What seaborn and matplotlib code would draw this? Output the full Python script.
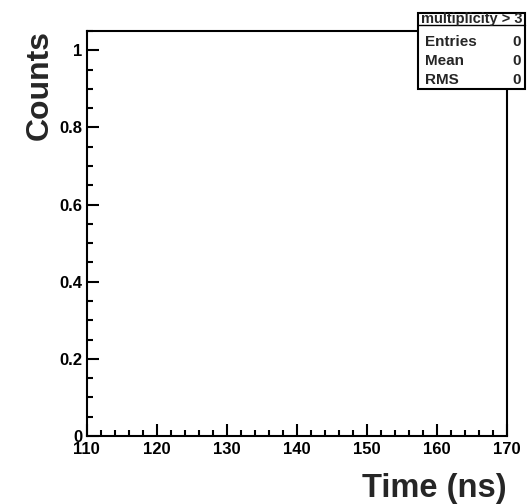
import numpy as np
import matplotlib
matplotlib.use("Agg")
import matplotlib.pyplot as plt
from matplotlib.patches import Rectangle
from matplotlib.ticker import MultipleLocator
import seaborn as sns

# Hit times (ns) passing the multiplicity > 3 selection: none recorded
hit_times = np.array([], dtype=float)
x_range = (110, 170)
n_bins = 60
y_range = (0, 1.05)
hist_title = "multiplicity > 3"
stat_names = ["Entries", "Mean", "RMS"]
stat_values = ["0", "0", "0"]

sns.set_style("ticks")
plt.rcParams["font.family"] = ["Liberation Sans", "DejaVu Sans"]
plt.rcParams["font.weight"] = "bold"

W, H = 531, 504
fig = plt.figure(figsize=(W / 100, H / 100), dpi=100)
fig.patch.set_facecolor("white")

# frame in pixel coordinates
L, R, T, B = 86.5, 507.0, 31.0, 436.0
ax = fig.add_axes([L / W, (H - B) / H, (R - L) / W, (B - T) / H])
ax.set_facecolor("white")

sns.histplot(x=hit_times, bins=n_bins, binrange=x_range, ax=ax,
             color="black", element="step", fill=False)

ax.set_xlim(*x_range)
ax.set_ylim(*y_range)
ax.set_xlabel("")
ax.set_ylabel("")

ax.xaxis.set_major_locator(MultipleLocator(10))
ax.xaxis.set_minor_locator(MultipleLocator(2))
ax.yaxis.set_major_locator(MultipleLocator(0.2))
ax.yaxis.set_minor_locator(MultipleLocator(0.05))
ax.yaxis.set_major_formatter(matplotlib.ticker.FuncFormatter(
    lambda v, p: "0" if abs(v) < 1e-9 else ("1" if abs(v - 1) < 1e-9 else f"{v:.1f}")))

for s in ax.spines.values():
    s.set_linewidth(1.5)
    s.set_color("black")
    s.set_visible(True)

ax.tick_params(axis="both", which="both", direction="in", width=1.5,
               colors="black", top=False, right=False)
ax.tick_params(axis="both", which="major", length=8.6, labelsize=12)
ax.tick_params(axis="both", which="minor", length=4.3)
ax.tick_params(axis="y", which="major", pad=3)
ax.tick_params(axis="x", which="major", pad=4)
for lab in ax.get_xticklabels() + ax.get_yticklabels():
    lab.set_fontweight("bold")

# axis titles
fig.text(R / W, (H - 497) / H, "Time (ns)", ha="right", va="baseline",
         fontsize=23.5, fontweight="bold")
fig.text(25 / W, (H - 30) / H, "Counts", ha="left", va="top", rotation=90,
         fontsize=23, fontweight="bold")

# statistics box
bx0, bx1, by0, by1, sep = 418, 525, 13, 89, 25
fig.patches.append(Rectangle((bx0 / W, (H - by1) / H), (bx1 - bx0) / W,
                             (by1 - by0) / H, transform=fig.transFigure,
                             facecolor="white", edgecolor="black",
                             linewidth=1.5, zorder=5))
fig.lines.append(plt.Line2D([bx0 / W, bx1 / W], [(H - sep) / H] * 2,
                            transform=fig.transFigure, color="black",
                            linewidth=1.0, zorder=6))
fig.text((bx0 + bx1) / 2 / W, (H - (by0 + sep) / 2) / H, hist_title,
         ha="center", va="center", fontsize=10.5, fontweight="bold", zorder=7)
row_y = [42, 61, 80]
for name, val, yy in zip(stat_names, stat_values, row_y):
    fig.text(425 / W, (H - yy) / H, name, ha="left", va="center",
             fontsize=11, fontweight="bold", zorder=7)
    fig.text(521 / W, (H - yy) / H, val, ha="right", va="center",
             fontsize=11, fontweight="bold", zorder=7)

fig.savefig("out.png", dpi=100, facecolor="white")
